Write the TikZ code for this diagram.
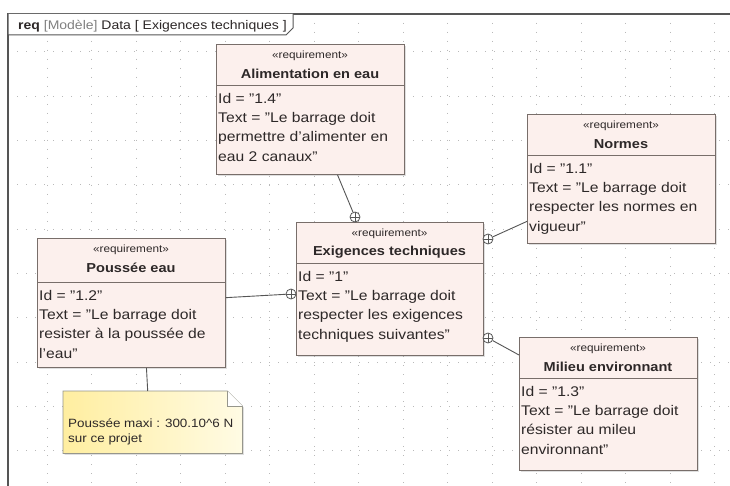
\documentclass[tikz,border=0pt]{standalone}
\usepackage{fontspec}
\setmainfont{Liberation Sans}[FakeStretch=1.12]
\usetikzlibrary{shadows}
\definecolor{reqfill}{RGB}{252,240,237}
\definecolor{reqdraw}{RGB}{120,110,106}
\definecolor{txt}{RGB}{45,40,40}
\definecolor{gridc}{RGB}{185,185,185}
\definecolor{notea}{RGB}{255,238,160}
\definecolor{noteb}{RGB}{255,251,228}
\definecolor{notedraw}{RGB}{150,150,140}
\definecolor{framec}{RGB}{85,85,85}
\tikzset{
  reqbox/.style={draw=reqdraw, fill=reqfill, line width=0.9pt, inner sep=0pt,
    drop shadow={shadow xshift=1.5pt, shadow yshift=-1.5pt, opacity=.25, fill=gray}},
  reqline/.style={draw=reqdraw, line width=0.8pt},
  stereo/.style={font=\fontsize{10.5}{12}\selectfont, text=txt, inner sep=0pt},
  reqname/.style={font=\fontsize{13}{15}\selectfont\bfseries, text=txt, inner sep=0pt},
  reqbody/.style={font=\fontsize{14}{19.3}\selectfont, text=txt, align=left, inner sep=0pt},
  gridline/.style={draw=gridc, line width=1pt, dash pattern=on 1pt off 8pt},
  conn/.style={draw=framec, line width=0.9pt},
  contain/.style={circle, draw=framec, line width=0.8pt, fill=white, minimum size=10pt, inner sep=0pt,
    path picture={\draw[framec, line width=0.6pt] (path picture bounding box.north) -- (path picture bounding box.south)
      (path picture bounding box.west) -- (path picture bounding box.east);}},
  notetxt/.style={font=\fontsize{12}{15}\selectfont, text=txt, align=left, inner sep=0pt}
}
\newcommand\ReqBox[8]{%
  \node[reqbox, minimum width={#4-#2}, minimum height={#6-#3}, anchor=north west] (#1) at (#2,#3) {};
  \draw[reqline] (#2,#5) -- (#4,#5);
  \node[stereo] (#1-st) at ({(#2+#4)/2},{#3+12}) {«requirement»};
  \node[reqname] (#1-nm) at ({(#2+#4)/2},{#3+30}) {#7};
  \node[reqbody, anchor=north west] (#1-bd) at ({#2+2},{#5+8}) {#8};
}
\begin{document}
\begin{tikzpicture}[x=1pt,y=-1pt]
\useasboundingbox (0,0) rectangle (730,486);
\fill[white] (0,0) rectangle (730,486);
% grid
\foreach \i in {0,...,15} \draw[gridline] ({47+44.5*\i},14) -- ({47+44.5*\i},490);
\foreach \j in {0,...,9} \draw[gridline] (8,{52+44.3*\j}) -- (735,{52+44.3*\j});
% frame
\draw[framec, line width=1.4pt] (8,495) -- (8,14) -- (740,14);
\draw[framec, line width=1pt, fill=white] (8,14) -- (8,35) -- (286,35) -- (293,28) -- (293,14);
\node[anchor=base west, inner sep=0pt, font=\fontsize{12.5}{14}\selectfont, text=txt] (title) at (18,29.5)
  {\textbf{req} {\color{gray}[Modèle]} Data [ Exigences techniques ]};
% boxes
\ReqBox{alim}{216}{44}{404}{85}{174}{Alimentation en eau}{Id = "1.4"\\Text = "Le barrage doit\\permettre d'alimenter en\\eau 2 canaux"}
\ReqBox{normes}{527}{114}{715}{155}{243}{Normes}{Id = "1.1"\\Text = "Le barrage doit\\respecter les normes en\\vigueur"}
\ReqBox{exig}{296}{222}{483}{263}{355}{Exigences techniques}{Id = "1"\\Text = "Le barrage doit\\respecter les exigences\\techniques suivantes"}
\ReqBox{pous}{37}{238}{225}{282}{367}{Poussée eau}{Id = "1.2"\\Text = "Le barrage doit\\resister à la poussée de\\l'eau"}
\ReqBox{milieu}{519}{337}{697}{378}{470}{Milieu environnant}{Id = "1.3"\\Text = "Le barrage doit\\résister au mileu\\environnant"}
% containment markers
\node[contain] (c1) at (355,217) {};
\node[contain] (c2) at (488,239) {};
\node[contain] (c3) at (291,294) {};
\node[contain] (c4) at (488,338) {};
\draw[conn] (alim) -- (c1);
\draw[conn] (normes) -- (c2);
\draw[conn] (pous) -- (c3);
\draw[conn] (milieu) -- (c4);
% note
\node[minimum width=179pt, minimum height=62pt, inner sep=0pt, anchor=north west] (note) at (63,391) {};
\fill[gray, opacity=.25] ([xshift=1.5pt,yshift=-1.5pt]note.south west) -- ([xshift=1.5pt,yshift=-1.5pt]note.north west) -- ([xshift=-13.5pt,yshift=-1.5pt]note.north east) -- ([xshift=1.5pt,yshift=-16.5pt]note.north east) -- ([xshift=1.5pt,yshift=-1.5pt]note.south east) -- cycle;
\path[draw=notedraw, line width=0.8pt, left color=notea, right color=noteb] (note.south west) -- (note.north west) -- ([xshift=-15pt]note.north east) -- ([yshift=-15pt]note.north east) -- (note.south east) -- cycle;
\draw[notedraw, line width=0.8pt, fill=white] ([xshift=-15pt]note.north east) -- ([xshift=-15pt,yshift=-15pt]note.north east) -- ([yshift=-15pt]note.north east);
\node[notetxt, anchor=north west] (notet) at (68,418) {Poussée maxi : 300.10\textasciicircum 6 N\\sur ce projet};
\draw[conn] ([xshift=15pt]pous.south) -- ([xshift=-5pt]note.north);
\end{tikzpicture}
\end{document}
